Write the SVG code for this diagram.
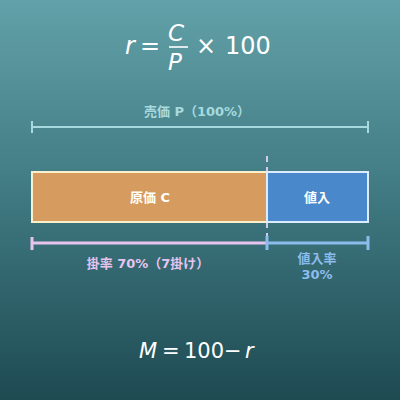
<svg xmlns="http://www.w3.org/2000/svg" width="400" height="400" viewBox="0 0 400 400">
<defs>
<linearGradient id="bg" x1="0" y1="0" x2="0" y2="1">
<stop offset="0" stop-color="#62a1a9"/>
<stop offset="0.5" stop-color="#3f7880"/>
<stop offset="1" stop-color="#1e4a52"/>
</linearGradient>
<style>
.math{font-family:"DejaVu Sans",sans-serif;fill:#ffffff}
.it{font-style:oblique}
.lbl{font-family:"DejaVu Sans","Noto Sans CJK JP",sans-serif;font-weight:bold;font-size:13px;text-anchor:middle}
</style>
</defs>
<rect width="400" height="400" fill="url(#bg)"/>
<g id="formula-top">
<text class="math it" x="125" y="54" font-size="24">r</text>
<text class="math" x="140" y="54" font-size="24">=</text>
<text class="math it" x="168" y="41" font-size="23">C</text>
<line x1="169" y1="47" x2="188" y2="47" stroke="#fff" stroke-width="1.6"/>
<text class="math it" x="168" y="70" font-size="23">P</text>
<text class="math" x="196" y="54" font-size="24">×</text>
<text class="math" x="225" y="54" font-size="24">100</text>
</g>
<g id="connectors">
<g stroke="#a6dade" stroke-width="2">
<line x1="32" y1="127" x2="368" y2="127"/>
<line x1="32" y1="121" x2="32" y2="133"/>
<line x1="368" y1="121" x2="368" y2="133"/>
</g>
<line x1="267" y1="156" x2="267" y2="250" stroke="#d2c9f0" stroke-width="2" stroke-dasharray="6,5"/>
<g stroke="#e6c4ee" stroke-width="3">
<line x1="32" y1="243" x2="267" y2="243"/>
<line x1="32" y1="237" x2="32" y2="250"/>
</g>
<g stroke="#8cbcec" stroke-width="3">
<line x1="267" y1="243" x2="368" y2="243"/>
<line x1="267" y1="236" x2="267" y2="250"/>
<line x1="368" y1="236" x2="368" y2="250"/>
</g>
</g>
<g id="label-price">
<text class="lbl" x="197" y="116" fill="#a6dade" font-size="14">売価 P（100%）</text>
</g>
<g id="node-cost">
<rect x="32" y="172" width="235" height="50" fill="#d69b5e" stroke="#fbf0cc" stroke-width="2"/>
<text class="lbl" x="150" y="202" fill="#ffffff" font-size="14">原価 C</text>
</g>
<g id="node-markup">
<rect x="267" y="172" width="101" height="50" fill="#4a88cc" stroke="#dcecfc" stroke-width="2"/>
<text class="lbl" x="317" y="202" fill="#ffffff" font-size="14">値入</text>
</g>
<g id="label-rate">
<text class="lbl" x="148" y="268" fill="#e6c4ee">掛率 70%（7掛け）</text>
</g>
<g id="label-markup-rate">
<text class="lbl" x="317" y="263" fill="#8cbcec" font-weight="normal" font-size="12">値入率</text>
<text class="lbl" x="317" y="279" fill="#8cbcec" font-weight="normal" font-size="12">30%</text>
</g>
<g id="formula-bottom">
<text class="math it" x="139" y="358" font-size="21">M</text>
<text class="math" x="162" y="358" font-size="21">=</text>
<text class="math" x="184" y="358" font-size="21">100</text>
<text class="math" x="224" y="358" font-size="21">−</text>
<text class="math it" x="245" y="358" font-size="21">r</text>
</g>
</svg>
